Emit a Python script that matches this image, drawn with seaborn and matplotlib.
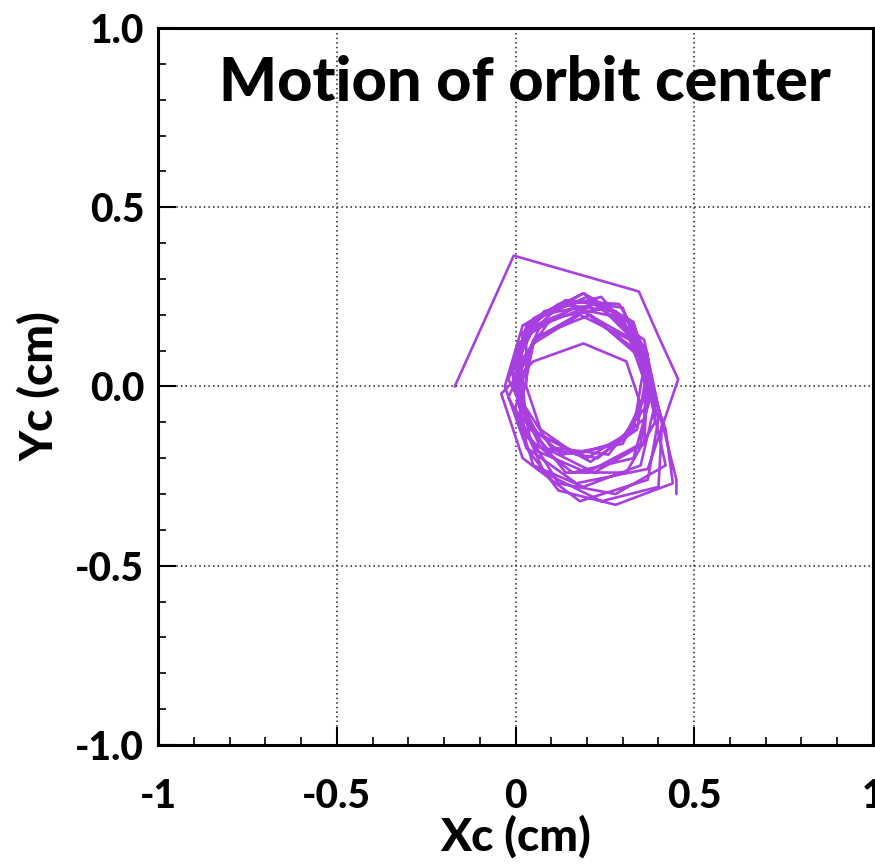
import numpy as np
import pandas as pd
import matplotlib
matplotlib.use("Agg")
import matplotlib.pyplot as plt
import seaborn as sns

# Orbit-center coordinates (cm), sampled along the trajectory
xc = [
    -0.17, -0.005, 0.345, 0.40, 0.455, 0.37, 0.17, 0.03,
    -0.03, 0.02, 0.14, 0.30, 0.36, 0.33, 0.20, 0.04,
    -0.01, 0.05, 0.19, 0.33, 0.38, 0.30, 0.13, 0.02,
    0.00, 0.08, 0.24, 0.35, 0.37, 0.26, 0.10, 0.01,
    0.02, 0.12, 0.28, 0.37, 0.34, 0.21, 0.06, -0.02,
    0.03, 0.17, 0.33, 0.39, 0.35, 0.19, 0.05, 0.00,
    0.05, 0.19, 0.34, 0.40, 0.37, 0.18, 0.02, -0.04,
    0.05, 0.19, 0.31, 0.35, 0.30, 0.17, 0.07, 0.03,
    0.03, 0.16, 0.30, 0.37, 0.36, 0.22, 0.08, -0.01,
    0.04, 0.20, 0.33, 0.38, 0.33, 0.16, 0.03, -0.01,
    0.07, 0.23, 0.36, 0.41, 0.40, 0.24, 0.08, 0.01,
    0.05, 0.18, 0.32, 0.38, 0.42, 0.28, 0.12, 0.04,
    0.00, 0.10, 0.26, 0.37, 0.39, 0.31, 0.14, 0.03,
    0.01, 0.14, 0.29, 0.37, 0.36, 0.23, 0.07, 0.00,
    0.03, 0.19, 0.33, 0.38, 0.35, 0.20, 0.06, -0.02,
    0.06, 0.21, 0.35, 0.42, 0.44, 0.28, 0.12, 0.03,
    0.00, 0.07, 0.22, 0.36, 0.40, 0.45, 0.45,
]
yc = [
    0.00, 0.365, 0.265, 0.14, 0.02, -0.23, -0.27, -0.17,
    0.00, 0.17, 0.24, 0.22, 0.06, -0.12, -0.20, -0.12,
    0.05, 0.19, 0.26, 0.17, 0.01, -0.16, -0.19, -0.09,
    0.10, 0.21, 0.25, 0.12, -0.05, -0.19, -0.17, -0.03,
    0.15, 0.23, 0.21, 0.06, -0.12, -0.21, -0.13, 0.02,
    0.16, 0.22, 0.13, -0.05, -0.22, -0.28, -0.22, -0.06,
    0.13, 0.21, 0.10, -0.09, -0.26, -0.32, -0.20, -0.02,
    0.07, 0.12, 0.07, -0.05, -0.15, -0.19, -0.12, 0.00,
    0.14, 0.22, 0.19, 0.03, -0.16, -0.24, -0.17, 0.00,
    0.18, 0.25, 0.15, -0.02, -0.20, -0.24, -0.14, 0.04,
    0.20, 0.23, 0.10, -0.10, -0.28, -0.32, -0.24, -0.08,
    0.12, 0.20, 0.13, -0.04, -0.22, -0.30, -0.27, -0.14,
    0.05, 0.19, 0.22, 0.08, -0.10, -0.24, -0.24, -0.10,
    0.12, 0.24, 0.23, 0.09, -0.09, -0.20, -0.17, -0.02,
    0.17, 0.26, 0.18, 0.02, -0.16, -0.24, -0.18, -0.03,
    0.14, 0.20, 0.08, -0.12, -0.27, -0.33, -0.29, -0.17,
    0.02, 0.17, 0.23, 0.13, -0.06, -0.26, -0.30,
]

x_ticks = [-1, -0.5, 0, 0.5, 1]
x_tick_labels = ["-1", "-0.5", "0", "0.5", "1"]
y_ticks = [1.0, 0.5, 0.0, -0.5, -1.0]
y_tick_labels = ["1.0", "0.5", "0.0", "-0.5", "-1.0"]

df = pd.DataFrame({"Xc": xc, "Yc": yc, "step": np.arange(len(xc))})

sns.set_theme(style="white")
plt.rcParams["font.family"] = ["Lato", "DejaVu Sans"]

fig = plt.figure(figsize=(8.75, 8.66), dpi=100)
ax = fig.add_axes([0.1806, 0.1397, 0.8171, 0.828])

sns.lineplot(data=df, x="Xc", y="Yc", sort=False, estimator=None,
             color="#a83fe0", linewidth=1.9, ax=ax)

ax.set_xlim(-1, 1)
ax.set_ylim(-1, 1)

# dotted grid at major positions
for v in [-0.5, 0, 0.5]:
    ax.axvline(v, color="#222222", linestyle=(0, (1, 2)), linewidth=1.1, zorder=0)
    ax.axhline(v, color="#222222", linestyle=(0, (1, 2)), linewidth=1.1, zorder=0)

ax.set_xticks(x_ticks)
ax.set_xticklabels(x_tick_labels)
ax.set_yticks(y_ticks)
ax.set_yticklabels(y_tick_labels)
ax.set_xticks(np.arange(-1, 1.001, 0.1), minor=True)
ax.set_yticks(np.arange(-1, 1.001, 0.1), minor=True)

ax.tick_params(axis="both", which="major", direction="in", length=13, width=1.5,
               color="black", labelsize=28, bottom=True, left=True, top=False, right=False)
ax.tick_params(axis="both", which="minor", direction="in", length=6, width=1.2,
               color="black", bottom=True, left=True, top=False, right=False)
ax.tick_params(axis="x", which="major", pad=24)
ax.tick_params(axis="y", which="major", pad=10)
for lab in ax.get_xticklabels() + ax.get_yticklabels():
    lab.set_fontweight("black")
    lab.set_color("black")

for s in ax.spines.values():
    s.set_visible(True)
    s.set_color("black")
    s.set_linewidth(2.2)

ax.set_xlabel("Xc (cm)", fontsize=33, fontweight="black", color="black", labelpad=0)
ax.set_ylabel("Yc (cm)", fontsize=33, fontweight="black", color="black", labelpad=10)

ax.text(0.513, 0.923, "Motion of orbit center", transform=ax.transAxes,
        ha="center", va="center", fontsize=44, fontweight="black", color="black")

fig.savefig("out.png", dpi=100)
